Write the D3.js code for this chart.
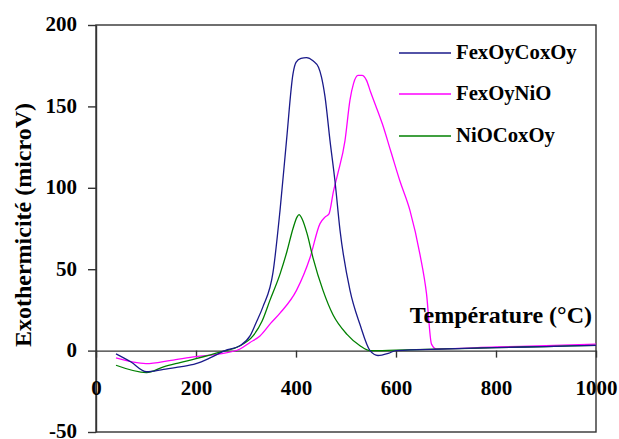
<!DOCTYPE html>
<html><head><meta charset="utf-8">
<script src="https://cdn.jsdelivr.net/npm/d3@7"></script>
<style>body{margin:0;background:#fff}svg{display:block}</style>
</head><body>
<svg id="c" width="619" height="439"></svg>
<script>
// ---- data ----
const seriesNames = ["FexOyCoxOy", "FexOyNiO", "NiOCoxOy"];
const xTicks = [0, 200, 400, 600, 800, 1000];
const yTicks = [-50, 0, 50, 100, 150, 200];
const xTitle = "Température (°C)";
const yTitle = "Exothermicité (microV)";

const fexoyCoxoyT = [40,70,101,135,168,200,228,258,288,308,320,334,354,368,381,394,400,410,421,434,445,451,458,468,478,488,508,528,548,564,586,600,700,800,900,1000];
const fexoyCoxoyV = [-2,-7,-13,-11.5,-10,-8,-4.5,0,3,9,17,27,48,86,129,170,177,179.5,180,178,174,168,156,129,104,74,37,16,0,-3,-1.5,0,1,1.8,2.5,3.2];

const fexoyNioT = [40,100,150,200,248,288,308,328,350,368,401,428,448,458,466,475,483,498,508,515,524,532,541,549,560,573,590,608,628,648,661,671,681,800,900,1000];
const fexoyNioV = [-4.5,-8,-6,-3.7,-2,1,5,9,17,23,37,57,78,82,84,98,108,129,154,164,169,169,166,159,150,139,122,104,86,59,35,4,1,2.2,3,4];

const nioCoxoyT = [40,101,135,168,200,248,288,314,332,348,368,382,394,402,406,412,422,434,454,474,502,528,548,600,700,800,900,1000];
const nioCoxoyV = [-9,-13.5,-10,-7.4,-5,-1,3,9,18,31,47,61,75,82,83.5,81,72,57,37,22,10,3,0,0.3,1,1.8,2.5,3.2];

const seriesColors = ["#1a1a8a", "#ff00ff", "#008000"];

// ---- chart ----
(function () {
const svg = d3.select("#c");
const font = "'Liberation Serif','DejaVu Serif',serif";
const axisColor = "#333";
const mL = 96, mR = 596, mT = 25, mB = 432;
const fmt = v => String(v);

const x = d3.scaleLinear().domain([0, 1000]).range([mL, mR]);
const y = d3.scaleLinear().domain([-50, 200]).range([mB, mT]);

// frame
svg.append("rect").attr("x", mL).attr("y", mT).attr("width", mR - mL).attr("height", mB - mT)
  .attr("fill", "none").attr("stroke", axisColor).attr("stroke-width", 1.4);

// y axis
const ya = svg.append("g").attr("transform", `translate(${mL},0)`)
  .call(d3.axisLeft(y).tickValues(yTicks).tickFormat(fmt).tickSize(8).tickSizeOuter(0).tickPadding(11));
ya.select(".domain").attr("stroke", axisColor).attr("stroke-width", 1.4);
ya.selectAll(".tick line").attr("stroke", axisColor).attr("stroke-width", 1.4);
ya.selectAll(".tick text").attr("font-family", font).attr("font-weight", "bold")
  .attr("font-size", 21).attr("fill", "#000").attr("dy", "0.28em");

// x axis at y=0
const xa = svg.append("g").attr("transform", `translate(0,${y(0)})`)
  .call(d3.axisBottom(x).tickValues(xTicks).tickFormat(fmt).tickSize(7).tickSizeOuter(0).tickPadding(22));
xa.select(".domain").attr("stroke", axisColor).attr("stroke-width", 1.4);
xa.selectAll(".tick line").attr("stroke", axisColor).attr("stroke-width", 1.4);
xa.selectAll(".tick text").attr("font-family", font).attr("font-weight", "bold")
  .attr("font-size", 21).attr("fill", "#000");

// lines
const data = [
  d3.zip(fexoyCoxoyT, fexoyCoxoyV),
  d3.zip(fexoyNioT, fexoyNioV),
  d3.zip(nioCoxoyT, nioCoxoyV)
];
const line = d3.line().x(d => x(d[0])).y(d => y(d[1])).curve(d3.curveMonotoneX);
[1, 2, 0].forEach(i => {
  svg.append("path").datum(data[i]).attr("d", line)
    .attr("fill", "none").attr("stroke", seriesColors[i]).attr("stroke-width", 1.3);
});

// legend
const legendY = [53, 94, 136];
seriesNames.forEach((n, i) => {
  svg.append("line").attr("x1", 399).attr("x2", 451).attr("y1", legendY[i]).attr("y2", legendY[i])
    .attr("stroke", seriesColors[i]).attr("stroke-width", 1.3);
  svg.append("text").attr("x", 456).attr("y", legendY[i] + 6).text(n)
    .attr("font-family", font).attr("font-weight", "bold").attr("font-size", 20.7).attr("fill", "#000");
});

// titles
svg.append("text").attr("x", 592).attr("y", 323).attr("text-anchor", "end").text(xTitle)
  .attr("font-family", font).attr("font-weight", "bold").attr("font-size", 24).attr("fill", "#000");
svg.append("text").attr("transform", "translate(31,225) rotate(-90)").attr("text-anchor", "middle").text(yTitle)
  .attr("font-family", font).attr("font-weight", "bold").attr("font-size", 24).attr("fill", "#000");
})();
</script>
</body></html>
